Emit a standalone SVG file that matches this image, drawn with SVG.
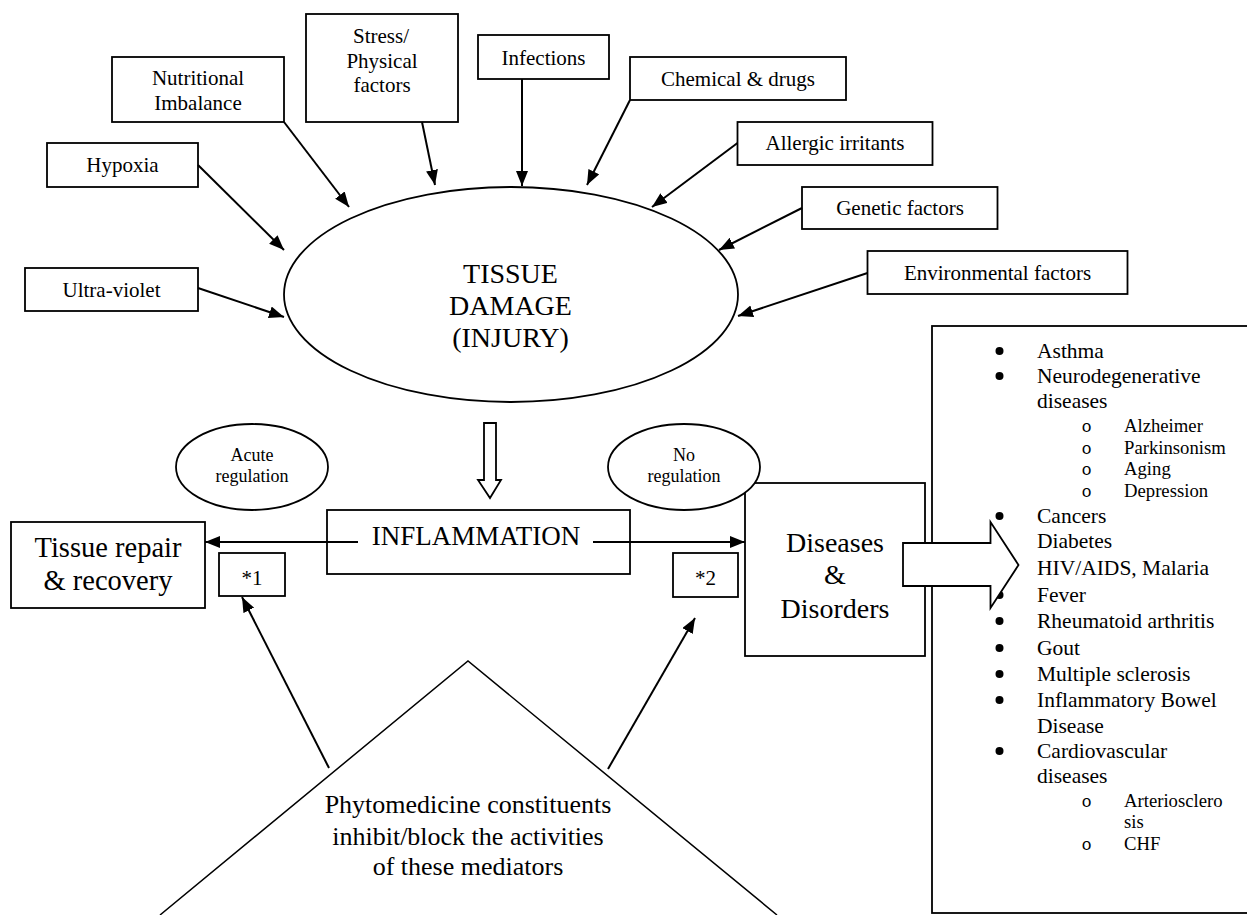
<svg xmlns="http://www.w3.org/2000/svg" width="1247" height="915" viewBox="0 0 1247 915">
<defs>
<marker id="ah" markerUnits="userSpaceOnUse" markerWidth="16" markerHeight="14" refX="15" refY="6" orient="auto"><path d="M0,0 L15,6 L0,12 Z" fill="#000"/></marker>
</defs>
<style>
.box{fill:#fff;stroke:#000;stroke-width:1.8}
.t{font-family:"Liberation Serif","Times New Roman",serif;fill:#000;text-anchor:middle}
.l{font-family:"Liberation Serif","Times New Roman",serif;fill:#000}
.m{font-family:"Liberation Mono","Courier New",monospace;fill:#000;text-anchor:middle}
.s21{font-size:21px}
.s18{font-size:18px}
.s28{font-size:28px}
.bul circle{fill:#000}
.conn line{stroke:#000;stroke-width:2;marker-end:url(#ah)}
</style>
<rect width="1247" height="915" fill="#fff"/>

<g id="nutritional"><rect class="box" x="112" y="57" width="172" height="65"/><text class="t s21" x="198" y="85">Nutritional</text><text class="t s21" x="198" y="110">Imbalance</text></g>
<g id="stress"><rect class="box" x="306" y="14" width="152" height="108"/><text class="t s21" x="381" y="43">Stress/</text><text class="t s21" x="382" y="68">Physical</text><text class="t s21" x="382" y="92">factors</text></g>
<g id="hypoxia"><rect class="box" x="47" y="143" width="151" height="44"/><text class="t s21" x="122.5" y="172">Hypoxia</text></g>
<g id="ultraviolet"><rect class="box" x="25" y="268" width="173" height="43"/><text class="t s21" x="111.5" y="297">Ultra-violet</text></g>
<g id="infections"><rect class="box" x="478" y="35" width="131" height="44"/><text class="t s21" x="543.5" y="65">Infections</text></g>
<g id="chemical"><rect class="box" x="630" y="57" width="216" height="43"/><text class="t s21" x="738" y="86">Chemical &amp; drugs</text></g>
<g id="allergic"><rect class="box" x="737.5" y="122" width="195" height="43"/><text class="t s21" x="835" y="150">Allergic irritants</text></g>
<g id="genetic"><rect class="box" x="802" y="187" width="195.5" height="42"/><text class="t s21" x="900" y="215">Genetic factors</text></g>
<g id="environmental"><rect class="box" x="867.5" y="251" width="260" height="43"/><text class="t s21" x="997.5" y="280">Environmental factors</text></g>

<g id="tissue-damage"><ellipse class="box" cx="511" cy="294.5" rx="227" ry="107.5"/><text class="t s28" x="510.5" y="283">TISSUE</text><text class="t s28" x="510.5" y="315">DAMAGE</text><text class="t s28" x="510.5" y="347">(INJURY)</text></g>

<g id="down-arrow"><path class="box" d="M484,423 L496,423 L496,480 L501,480 L490,498 L478,480 L484,480 Z" stroke-width="1.5"/></g>

<g id="inflammation"><rect class="box" x="327" y="510" width="303" height="64"/><text class="t" font-size="27" x="476" y="545">INFLAMMATION</text></g>
<g id="tissue-repair"><rect class="box" x="11" y="522" width="194" height="86"/><text class="t" font-size="28.5" x="108" y="557">Tissue repair</text><text class="t" font-size="28.5" x="108" y="590">&amp; recovery</text></g>
<g id="star1"><rect class="box" x="219" y="553" width="66" height="43"/><text class="t s21" x="252" y="585">*1</text></g>
<g id="star2"><rect class="box" x="673" y="553" width="65" height="44"/><text class="t s21" x="705.5" y="585">*2</text></g>
<g id="acute-regulation"><ellipse class="box" cx="252" cy="467" rx="76" ry="43"/><text class="t s18" x="252" y="461">Acute</text><text class="t s18" x="252" y="482">regulation</text></g>

<g id="diseases"><rect class="box" x="745" y="483" width="180" height="173"/><text class="t s28" x="835" y="552">Diseases</text><text class="t s28" x="835" y="584">&amp;</text><text class="t s28" x="835" y="618">Disorders</text></g>
<g id="no-regulation"><ellipse class="box" cx="684" cy="467" rx="76" ry="43"/><text class="t s18" x="684" y="461">No</text><text class="t s18" x="684" y="482">regulation</text></g>

<g id="disease-list">
<rect class="box" x="932" y="326" width="330" height="587"/>
<g class="bul">
<circle cx="999.5" cy="351" r="4"/><circle cx="999.5" cy="376" r="4"/><circle cx="999.5" cy="516" r="4"/><circle cx="999.5" cy="595" r="4"/><circle cx="999.5" cy="621" r="4"/><circle cx="999.5" cy="648" r="4"/><circle cx="999.5" cy="674" r="4"/><circle cx="999.5" cy="700" r="4"/><circle cx="999.5" cy="751" r="4"/>
</g>
<g class="l" font-size="21.5">
<text x="1037" y="358">Asthma</text>
<text x="1037" y="383">Neurodegenerative</text>
<text x="1037" y="408">diseases</text>
<text x="1037" y="523">Cancers</text>
<text x="1037" y="548">Diabetes</text>
<text x="1037" y="575">HIV/AIDS, Malaria</text>
<text x="1037" y="602">Fever</text>
<text x="1037" y="628">Rheumatoid arthritis</text>
<text x="1037" y="655">Gout</text>
<text x="1037" y="681">Multiple sclerosis</text>
<text x="1037" y="707">Inflammatory Bowel</text>
<text x="1037" y="733">Disease</text>
<text x="1037" y="758">Cardiovascular</text>
<text x="1037" y="783">diseases</text>
</g>
<g class="m" font-size="17">
<text x="1086.5" y="432">o</text><text x="1086.5" y="454">o</text><text x="1086.5" y="475">o</text><text x="1086.5" y="497">o</text><text x="1086.5" y="807">o</text><text x="1086.5" y="850">o</text>
</g>
<g class="l" font-size="18.7">
<text x="1124" y="432">Alzheimer</text>
<text x="1124" y="454">Parkinsonism</text>
<text x="1124" y="475">Aging</text>
<text x="1124" y="497">Depression</text>
<text x="1124" y="807">Arteriosclero</text>
<text x="1124" y="828">sis</text>
<text x="1124" y="850">CHF</text>
</g>
</g>

<g id="block-arrow"><path class="box" d="M903,543 L990.5,543 L990.5,522 L1018.5,565 L990.5,608 L990.5,586 L903,586 Z" stroke-width="1.8"/></g>

<g id="phytomedicine"><polyline points="160,915 468,661 777,915" fill="#fff" stroke="#000" stroke-width="1.5"/><text class="t" font-size="26" x="468" y="813">Phytomedicine constituents</text><text class="t" font-size="26" x="468" y="845">inhibit/block the activities</text><text class="t" font-size="26" x="468" y="875">of these mediators</text></g>

<g id="connectors" class="conn">
<line x1="284" y1="122" x2="349" y2="207"/>
<line x1="198" y1="165" x2="284" y2="250"/>
<line x1="198" y1="288" x2="284" y2="317"/>
<line x1="422" y1="122" x2="435" y2="185"/>
<line x1="522" y1="79" x2="522" y2="186"/>
<line x1="630" y1="100" x2="587" y2="185"/>
<line x1="737.5" y1="143" x2="652" y2="207"/>
<line x1="802" y1="208" x2="719" y2="250"/>
<line x1="867.5" y1="273" x2="738" y2="316"/>
<line x1="358" y1="542" x2="205" y2="542"/>
<line x1="593" y1="542" x2="745" y2="542"/>
<line x1="329" y1="768" x2="242" y2="597"/>
<line x1="608" y1="769" x2="695" y2="618"/>
</g>
</svg>
